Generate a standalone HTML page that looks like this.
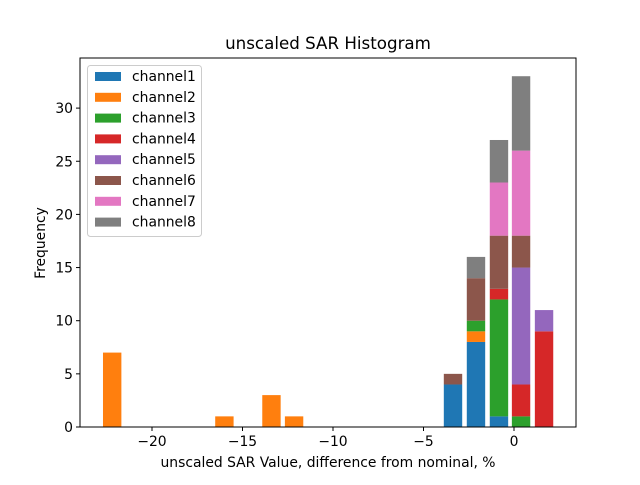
<!DOCTYPE html>
<html><head><meta charset="utf-8"><style>
body{margin:0;background:#fff;}
svg{font-family:"DejaVu Sans","Liberation Sans",sans-serif;}
</style></head><body>
<svg id="c" width="640" height="480"></svg>
<script>
const binCenters=[-22.2,-16.0,-13.4,-12.15,-3.37,-2.1,-0.83,0.39,1.66];
const seriesNames=["channel1","channel2","channel3","channel4","channel5","channel6","channel7","channel8"];
const colors=["#1f77b4","#ff7f0e","#2ca02c","#d62728","#9467bd","#8c564b","#e377c2","#7f7f7f"];
const ch1=[0,0,0,0,4,8,1,0,0];
const ch2=[7,1,3,1,0,1,0,0,0];
const ch3=[0,0,0,0,0,1,11,1,0];
const ch4=[0,0,0,0,0,0,1,3,9];
const ch5=[0,0,0,0,0,0,0,11,2];
const ch6=[0,0,0,0,1,4,5,3,0];
const ch7=[0,0,0,0,0,0,5,8,0];
const ch8=[0,0,0,0,0,2,4,7,0];
const series=[ch1,ch2,ch3,ch4,ch5,ch6,ch7,ch8];
const xTicks=[-20,-15,-10,-5,0];
const yTicks=[0,5,10,15,20,25,30];
const binWidth=1.27;
const NS="http://www.w3.org/2000/svg";
const svg=document.getElementById('c');
const L=80,R=576,T=58,B=427;
const X=v=>514+v*18.1;
const Y=v=>427-v*10.63;
function mk(t,a,p){const e=document.createElementNS(NS,t);for(const k in a)e.setAttribute(k,a[k]);(p||svg).appendChild(e);return e;}
const bars=mk('g',{});


const base=binCenters.map(()=>0);
series.forEach((s,si)=>{s.forEach((v,i)=>{if(!v)return;
const w=binWidth*0.8*18.1;
const r=mk('rect',{x:X(binCenters[i])-w/2,y:Y(base[i]+v),width:w,height:Y(base[i])-Y(base[i]+v),fill:colors[si]},bars);


base[i]+=v;});});
const frame=mk('rect',{x:L,y:T,width:R-L,height:B-T,fill:'none',stroke:'#000','stroke-width':1});


xTicks.forEach(t=>{mk('line',{x1:X(t),x2:X(t),y1:B,y2:B+4,stroke:'#000'});
const tx=mk('text',{x:X(t),y:B+19,'text-anchor':'middle','font-size':13.9});tx.textContent=(t<0?'\u2212'+(-t):t);

});
yTicks.forEach(t=>{mk('line',{x1:L-4,x2:L,y1:Y(t),y2:Y(t),stroke:'#000'});
const tx=mk('text',{x:L-7,y:Y(t)+5,'text-anchor':'end','font-size':13.9});tx.textContent=t;

});
let e=mk('text',{x:328,y:49,'text-anchor':'middle','font-size':16.7});e.textContent='unscaled SAR Histogram';


e=mk('text',{x:328,y:467,'text-anchor':'middle','font-size':13.9});e.textContent='unscaled SAR Value, difference from nominal, %';


e=mk('text',{x:45,y:243,'text-anchor':'middle','font-size':13.9,transform:'rotate(-90 45 243)'});e.textContent='Frequency';


const lg=mk('g',{});


mk('rect',{x:87.5,y:65.5,width:114,height:171,rx:3,fill:'#fff','fill-opacity':0.8,stroke:'#ccc'},lg);
seriesNames.forEach((n,i)=>{const g=mk('g',{},lg);


const y=76+i*20.8;
mk('rect',{x:95,y:y-4,width:26,height:9,fill:colors[i]},g);
const t=mk('text',{x:132,y:y+5,'font-size':13.9},g);t.textContent=n;});
</script>
</body></html>
